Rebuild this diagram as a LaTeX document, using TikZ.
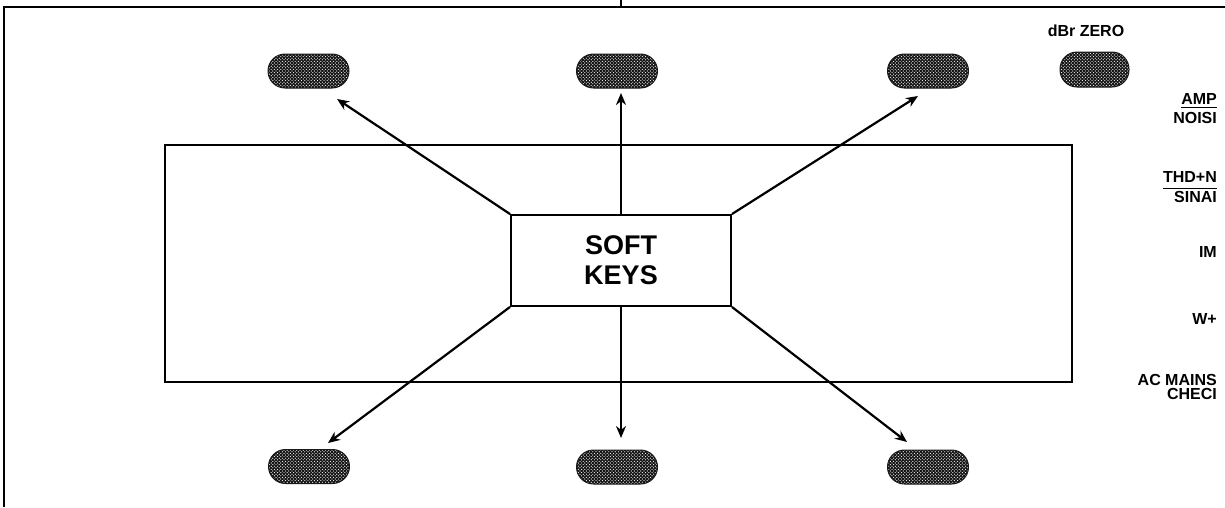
\documentclass[tikz,border=0pt]{standalone}
\usepackage{fontspec}
\setmainfont{Liberation Sans}
\usetikzlibrary{arrows.meta,patterns}
% white dot screen used on the key caps
\pgfdeclarepatternformonly{keydots}{\pgfqpoint{-1pt}{-1pt}}{\pgfqpoint{4pt}{4pt}}{\pgfqpoint{3.2pt}{3.2pt}}{%
  \pgfpathcircle{\pgfqpoint{0.8pt}{0.8pt}}{0.6pt}%
  \pgfpathcircle{\pgfqpoint{2.4pt}{2.4pt}}{0.6pt}%
  \pgfusepath{fill}}
\begin{document}
\begin{tikzpicture}[x=1pt,y=-1pt,
  frame/.style={line width=2.2pt},
  box/.style={draw, line width=1.9pt, inner sep=0pt},
  key/.style={draw=black!90, line width=1pt, rounded corners=17pt,
    minimum width=81pt, minimum height=34pt, inner sep=0pt,
    preaction={fill=black!92}, pattern=keydots, pattern color=white},
  lbl/.style={font=\bfseries\fontsize{16}{17}\selectfont, inner sep=0pt},
  arr/.style={line width=2.2pt, -{Stealth[length=12pt,width=10pt]}},
  bar/.style={line width=1.8pt}]
  \useasboundingbox (0,0) rectangle (1225,507);

  % panel outline
  \draw[frame] (4,507) -- (4,7) -- (1225,7);
  \draw[line width=1.4pt] (621,0) -- (621,7);

  % display area and soft key legend
  \node[box, minimum width=907pt, minimum height=237pt] (disp) at (618.5,263.5) {};
  \node[box, minimum width=220pt, minimum height=91pt, align=center,
        font=\bfseries\fontsize{27}{30}\selectfont] (sk) at (621,260.5) {SOFT\\KEYS};

  % keys
  \node[key] (k1) at (308.5,71) {};
  \node[key] (k2) at (617,71) {};
  \node[key] (k3) at (928,71) {};
  \node[key, minimum width=69pt, minimum height=35pt] (kz) at (1094.5,69.5) {};
  \node[key] (k4) at (309,466.5) {};
  \node[key] (k5) at (617,467) {};
  \node[key] (k6) at (928,467) {};

  % arrow tips
  \coordinate (t1) at (337,99);
  \coordinate (t2) at (621,93);
  \coordinate (t3) at (918,96);
  \coordinate (t4) at (328,443);
  \coordinate (t5) at (621,438);
  \coordinate (t6) at (907,442);

  \draw[arr] (sk.north west) -- (t1);
  \draw[arr] (sk.north) -- (t2);
  \draw[arr] (sk.north east) -- (t3);
  \draw[arr] (sk.south west) -- (t4);
  \draw[arr] (sk.south) -- (t5);
  \draw[arr] (sk.south east) -- (t6);

  % side labels
  \node[lbl, anchor=base] (dbr) at (1086,36) {dBr ZERO};
  \node[lbl, anchor=base east] (amp) at (1217,104) {AMP};
  \node[lbl, anchor=base east] (noi) at (1217,123) {NOISI};
  \draw[bar] ([yshift=-3.5pt]amp.base west) -- ([yshift=-3.5pt]amp.base east);
  \node[lbl, anchor=base east] (thd) at (1217,182) {THD+N};
  \node[lbl, anchor=base east] (sin) at (1217,202) {SINAI};
  \draw[bar] ([yshift=-6.5pt]thd.base west) -- ([yshift=-6.5pt]thd.base east);
  \node[lbl, anchor=base east] (im) at (1217,257) {IM};
  \node[lbl, anchor=base east] (wp) at (1217,324) {W+};
  \node[lbl, anchor=base east] (acm) at (1217,385) {AC MAINS};
  \node[lbl, anchor=base east] (chk) at (1217,399) {CHECI};
\end{tikzpicture}
\end{document}
